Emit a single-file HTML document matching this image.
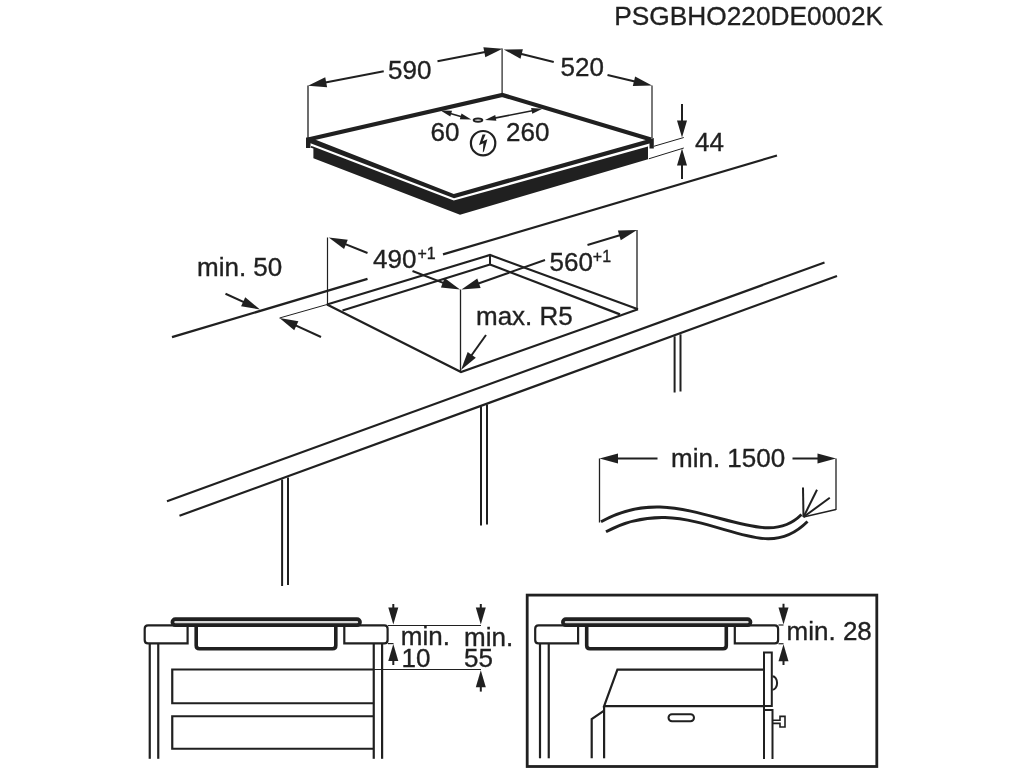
<!DOCTYPE html>
<html><head><meta charset="utf-8"><style>
html,body{margin:0;padding:0;background:#fff;width:1024px;height:768px;overflow:hidden}
svg{display:block;filter:grayscale(1)}
text{font-family:"Liberation Sans",sans-serif;fill:#231f20;stroke:#231f20;stroke-width:0.35px}
</style></head><body>
<svg width="1024" height="768" viewBox="0 0 1024 768" stroke="#231f20" stroke-linecap="butt">
<text transform="translate(614.3,25) scale(1,0.98)" font-size="26.3" >PSGBHO220DE0002K</text>
<polygon points="311.00,146.00 313.00,146.60 453.75,200.60 648.00,146.40 648.00,159.20 460.00,214.80 313.40,158.20 313.40,148.40 311.00,147.80" fill="#231f20" stroke="none"/>
<polygon points="306.00,137.50 310.50,137.80 453.75,193.90 649.50,139.00 653.80,138.00 653.80,148.50 649.50,148.50 649.50,143.60 454.00,198.20 310.50,143.20 310.50,148.00 306.00,148.00" fill="#231f20" stroke="none"/>
<polyline points="308.00,139.50 502.30,94.90 651.00,139.60" stroke-width="4.2" fill="none" stroke-linejoin="miter"/>
<line x1="308.00" y1="85.50" x2="308.00" y2="138.00" stroke-width="1.3"/>
<line x1="502.10" y1="48.50" x2="502.10" y2="93.00" stroke-width="1.2"/>
<line x1="652.00" y1="85.50" x2="652.00" y2="138.00" stroke-width="1.2"/>
<line x1="383.75" y1="71.25" x2="318.90" y2="83.66" stroke-width="2"/>
<polygon points="308.00,85.75 325.23,77.36 327.11,87.18" fill="#231f20" stroke="none"/>
<line x1="437.50" y1="61.25" x2="491.60" y2="50.85" stroke-width="2"/>
<polygon points="502.50,48.75 485.28,57.15 483.39,47.33" fill="#231f20" stroke="none"/>
<text transform="translate(388,78.8) scale(1,1.02)" font-size="26" >590</text>
<line x1="553.75" y1="62.00" x2="514.52" y2="52.19" stroke-width="2"/>
<polygon points="503.75,49.50 522.91,49.14 520.48,58.84" fill="#231f20" stroke="none"/>
<line x1="607.50" y1="75.00" x2="641.20" y2="82.95" stroke-width="2"/>
<polygon points="652.00,85.50 632.85,86.12 635.14,76.39" fill="#231f20" stroke="none"/>
<text transform="translate(560.5,75.5) scale(1,1.02)" font-size="26" >520</text>
<ellipse cx="478" cy="120.1" rx="4.3" ry="1.7" stroke-width="2" fill="none"/>
<polygon points="440.60,110.60 452.00,110.75 450.34,116.52" fill="#231f20" stroke="none"/>
<polygon points="471.25,119.40 459.85,119.25 461.51,113.48" fill="#231f20" stroke="none"/>
<line x1="446.00" y1="112.20" x2="466.00" y2="118.00" stroke-width="1.6"/>
<polygon points="485.00,120.00 495.22,114.94 496.37,120.83" fill="#231f20" stroke="none"/>
<polygon points="542.50,108.75 532.28,113.81 531.13,107.92" fill="#231f20" stroke="none"/>
<line x1="492.00" y1="118.60" x2="536.00" y2="110.00" stroke-width="1.6"/>
<text transform="translate(430.5,140.7) scale(1,1.02)" font-size="26" >60</text>
<text transform="translate(506,141.2) scale(1,1.02)" font-size="26" >260</text>
<circle cx="483.1" cy="143.2" r="12.2" stroke-width="2.2" fill="none"/>
<polygon points="482.50,134.60 485.60,134.60 482.60,141.20 487.40,139.20 484.00,151.20 482.80,152.60 483.40,143.20 479.00,145.30" fill="#231f20" stroke="none"/>
<line x1="653.80" y1="146.30" x2="683.80" y2="137.50" stroke-width="1"/>
<line x1="648.80" y1="158.80" x2="683.80" y2="148.00" stroke-width="1"/>
<line x1="682.00" y1="104.00" x2="682.00" y2="127.30" stroke-width="2"/>
<polygon points="682.00,137.50 677.00,120.50 687.00,120.50" fill="#231f20" stroke="none"/>
<line x1="682.00" y1="179.00" x2="682.00" y2="158.70" stroke-width="2"/>
<polygon points="682.00,148.50 687.00,165.50 677.00,165.50" fill="#231f20" stroke="none"/>
<text transform="translate(695,151.3) scale(1,1.02)" font-size="26" >44</text>
<line x1="172.00" y1="337.20" x2="367.50" y2="278.80" stroke-width="2.3"/>
<line x1="443.00" y1="254.40" x2="777.00" y2="155.50" stroke-width="2.2"/>
<line x1="167.00" y1="501.25" x2="824.50" y2="262.50" stroke-width="2.2"/>
<line x1="179.50" y1="515.75" x2="837.00" y2="276.00" stroke-width="2.2"/>
<line x1="279.50" y1="318.00" x2="327.00" y2="304.50" stroke-width="1"/>
<polyline points="327.00,304.50 490.00,255.00 638.00,309.20" stroke-width="2.2" fill="none" />
<polyline points="327.00,304.50 461.00,372.00 638.00,309.20" stroke-width="2.2" fill="none" />
<line x1="490.00" y1="255.00" x2="490.00" y2="264.50" stroke-width="2"/>
<line x1="342.50" y1="310.50" x2="490.00" y2="264.50" stroke-width="2.2"/>
<line x1="490.00" y1="264.50" x2="620.00" y2="314.40" stroke-width="2.2"/>
<line x1="327.50" y1="237.50" x2="327.50" y2="304.50" stroke-width="1.2"/>
<line x1="637.00" y1="230.00" x2="637.00" y2="309.00" stroke-width="1.3"/>
<line x1="460.50" y1="289.50" x2="460.50" y2="372.00" stroke-width="1.3"/>
<line x1="367.50" y1="253.00" x2="339.06" y2="241.62" stroke-width="2"/>
<polygon points="328.75,237.50 347.78,239.73 344.07,249.01" fill="#231f20" stroke="none"/>
<line x1="587.50" y1="245.00" x2="626.38" y2="233.22" stroke-width="2"/>
<polygon points="637.00,230.00 620.75,240.15 617.85,230.58" fill="#231f20" stroke="none"/>
<line x1="412.50" y1="271.00" x2="449.65" y2="285.39" stroke-width="2"/>
<polygon points="460.00,289.40 440.94,287.38 444.56,278.06" fill="#231f20" stroke="none"/>
<line x1="545.00" y1="260.00" x2="471.97" y2="285.71" stroke-width="2"/>
<polygon points="461.50,289.40 477.29,278.54 480.61,287.97" fill="#231f20" stroke="none"/>
<line x1="486.00" y1="335.00" x2="467.45" y2="360.97" stroke-width="2"/>
<polygon points="461.00,370.00 467.68,352.04 475.82,357.85" fill="#231f20" stroke="none"/>
<line x1="225.50" y1="293.75" x2="249.90" y2="304.89" stroke-width="2"/>
<polygon points="260.00,309.50 241.09,306.37 245.25,297.27" fill="#231f20" stroke="none"/>
<line x1="321.00" y1="337.00" x2="289.59" y2="322.62" stroke-width="2"/>
<polygon points="279.50,318.00 298.40,321.15 294.24,330.25" fill="#231f20" stroke="none"/>
<text transform="translate(197,276) scale(1,1.02)" font-size="26" >min. 50</text>
<text transform="translate(373,267.5) scale(1,1.02)" font-size="26" >490</text>
<text transform="translate(417.5,259) scale(1,1.02)" font-size="16" >+1</text>
<text transform="translate(549.5,270.6) scale(1,1.02)" font-size="26" >560</text>
<text transform="translate(592.8,261.6) scale(1,1.02)" font-size="16" >+1</text>
<text transform="translate(476,325) scale(1,1.02)" font-size="26" >max. R5</text>
<line x1="282.10" y1="479.50" x2="282.10" y2="586.00" stroke-width="2"/>
<line x1="288.00" y1="477.50" x2="288.00" y2="585.00" stroke-width="2"/>
<line x1="481.00" y1="406.60" x2="481.00" y2="525.60" stroke-width="2"/>
<line x1="487.00" y1="404.60" x2="487.00" y2="524.60" stroke-width="2"/>
<line x1="674.60" y1="336.30" x2="674.60" y2="392.50" stroke-width="2"/>
<line x1="680.50" y1="334.30" x2="680.50" y2="391.50" stroke-width="2"/>
<line x1="599.50" y1="458.50" x2="599.50" y2="522.50" stroke-width="1.3"/>
<line x1="836.00" y1="458.50" x2="836.00" y2="510.00" stroke-width="1.3"/>
<line x1="657.50" y1="458.50" x2="610.60" y2="458.50" stroke-width="2.2"/>
<polygon points="599.50,458.50 618.00,453.50 618.00,463.50" fill="#231f20" stroke="none"/>
<line x1="792.50" y1="458.50" x2="824.90" y2="458.50" stroke-width="2.2"/>
<polygon points="836.00,458.50 817.50,463.50 817.50,453.50" fill="#231f20" stroke="none"/>
<text transform="translate(671,466.8) scale(1,1.02)" font-size="26" >min. 1500</text>
<path d="M601,521.8 C620,511 640,506.5 660,507 C700,508.5 738,527.5 768,527.8 C784,528 795,521 801.5,514.5" stroke-width="2.9" fill="none"/>
<path d="M606,531.8 C625,521.5 645,517 665,517.5 C705,519 740,538.5 768,538.8 C786,539 799,530 807.5,521.5" stroke-width="2.9" fill="none"/>
<line x1="803.50" y1="517.00" x2="803.00" y2="487.50" stroke-width="2"/>
<line x1="803.50" y1="517.00" x2="817.00" y2="489.80" stroke-width="2"/>
<line x1="803.50" y1="517.00" x2="829.80" y2="497.80" stroke-width="2"/>
<line x1="803.50" y1="517.00" x2="836.00" y2="509.50" stroke-width="1.3"/>
<path d="M187.6,625.4 H148 Q144.7,625.4 144.7,628.8 V640 Q144.7,643.4 148,643.4 H187.6 Z" stroke-width="2.2" fill="none"/>
<path d="M344.3,625.4 H384.3 Q387.6,625.4 387.6,628.8 V640 Q387.6,643.4 384.3,643.4 H344.3 Z" stroke-width="2.2" fill="none"/>
<rect x="172.4" y="619.1" width="187.6" height="6.1" rx="3" stroke-width="3.7" fill="#d8d5d5"/>
<path d="M196.2,625 V645.6 Q196.2,648.8 199.4,648.8 H332.6 Q335.8,648.8 335.8,645.6 V625" stroke-width="3.6" fill="none"/>
<path d="M578.1,625.4 H538.5 Q535.2,625.4 535.2,628.8 V640 Q535.2,643.4 538.5,643.4 H578.1 Z" stroke-width="2.2" fill="none"/>
<path d="M734.8,625.4 H774.8 Q778.1,625.4 778.1,628.8 V640 Q778.1,643.4 774.8,643.4 H734.8 Z" stroke-width="2.2" fill="none"/>
<rect x="562.9" y="619.1" width="187.6" height="6.1" rx="3" stroke-width="3.7" fill="#d8d5d5"/>
<path d="M586.7,625 V645.6 Q586.7,648.8 589.9,648.8 H723.1 Q726.3,648.8 726.3,645.6 V625" stroke-width="3.6" fill="none"/>
<line x1="149.75" y1="644.00" x2="149.75" y2="758.80" stroke-width="2.2"/>
<line x1="158.25" y1="644.00" x2="158.25" y2="758.80" stroke-width="2.2"/>
<line x1="373.75" y1="644.00" x2="373.75" y2="758.80" stroke-width="2.2"/>
<line x1="382.10" y1="644.00" x2="382.10" y2="758.80" stroke-width="2.2"/>
<polyline points="373.75,669.5 172.25,669.5 172.25,703.25 373.75,703.25" stroke-width="2.2" fill="none"/>
<polyline points="373.75,716.25 172.25,716.25 172.25,748.75 373.75,748.75" stroke-width="2.2" fill="none"/>
<line x1="388.00" y1="625.50" x2="481.00" y2="625.50" stroke-width="1.2"/>
<line x1="373.75" y1="669.50" x2="481.00" y2="669.50" stroke-width="1.2"/>
<line x1="388.00" y1="643.60" x2="393.50" y2="643.60" stroke-width="1.2"/>
<line x1="393.30" y1="604.00" x2="393.30" y2="614.30" stroke-width="2"/>
<polygon points="393.30,624.50 388.30,607.50 398.30,607.50" fill="#231f20" stroke="none"/>
<line x1="393.30" y1="665.00" x2="393.30" y2="654.20" stroke-width="2"/>
<polygon points="393.30,644.00 398.30,661.00 388.30,661.00" fill="#231f20" stroke="none"/>
<line x1="480.80" y1="604.00" x2="480.80" y2="614.30" stroke-width="2"/>
<polygon points="480.80,624.50 475.80,607.50 485.80,607.50" fill="#231f20" stroke="none"/>
<line x1="480.80" y1="691.60" x2="480.80" y2="680.50" stroke-width="2"/>
<polygon points="480.80,670.30 485.80,687.30 475.80,687.30" fill="#231f20" stroke="none"/>
<text transform="translate(400.8,645.3) scale(1,1.02)" font-size="26" >min.</text>
<text transform="translate(401.5,666.8) scale(1,1.02)" font-size="26" >10</text>
<text transform="translate(464,645.5) scale(1,1.02)" font-size="26" >min.</text>
<text transform="translate(464,666.6) scale(1,1.02)" font-size="26" >55</text>
<rect x="527.2" y="595.1" width="349.6" height="171.4" stroke-width="2.8" fill="none"/>
<line x1="540.00" y1="644.00" x2="540.00" y2="758.30" stroke-width="2.2"/>
<line x1="548.75" y1="644.00" x2="548.75" y2="758.30" stroke-width="2.2"/>
<polyline points="764,669.6 617.4,669.6 604.1,706.2 764,706.2" stroke-width="2.2" fill="none"/>
<line x1="604.10" y1="706.20" x2="604.10" y2="758.30" stroke-width="2.2"/>
<polyline points="604.1,710.6 591.7,719 591.7,758.3" stroke-width="2.2" fill="none"/>
<rect x="668.5" y="714.3" width="25.5" height="6.9" rx="3.45" stroke-width="2" fill="none"/>
<polyline points="764,759 764,652.5 771.8,652.5 771.8,706 764,706" stroke-width="2" fill="none"/>
<path d="M772.5,676.2 A4.6,6.8 0 0 1 772.5,689.8" stroke-width="2" fill="none"/>
<polyline points="764,759 764,710 772.5,710 772.5,759" stroke-width="2" fill="none"/>
<polyline points="772.5,720.2 780,720.2 780,716.4 785,716.4 785,727 780,727 780,723.4 772.5,723.4" stroke-width="1.6" fill="none"/>
<line x1="778.50" y1="625.00" x2="783.50" y2="625.00" stroke-width="1.2"/>
<line x1="778.50" y1="643.75" x2="783.50" y2="643.75" stroke-width="1.2"/>
<line x1="783.50" y1="603.75" x2="783.50" y2="614.20" stroke-width="2"/>
<polygon points="783.50,624.40 778.50,607.40 788.50,607.40" fill="#231f20" stroke="none"/>
<line x1="783.50" y1="665.00" x2="783.50" y2="654.40" stroke-width="2"/>
<polygon points="783.50,644.20 788.50,661.20 778.50,661.20" fill="#231f20" stroke="none"/>
<text transform="translate(786.6,639.8) scale(1,1.02)" font-size="26" >min. 28</text>
</svg>
</body></html>
